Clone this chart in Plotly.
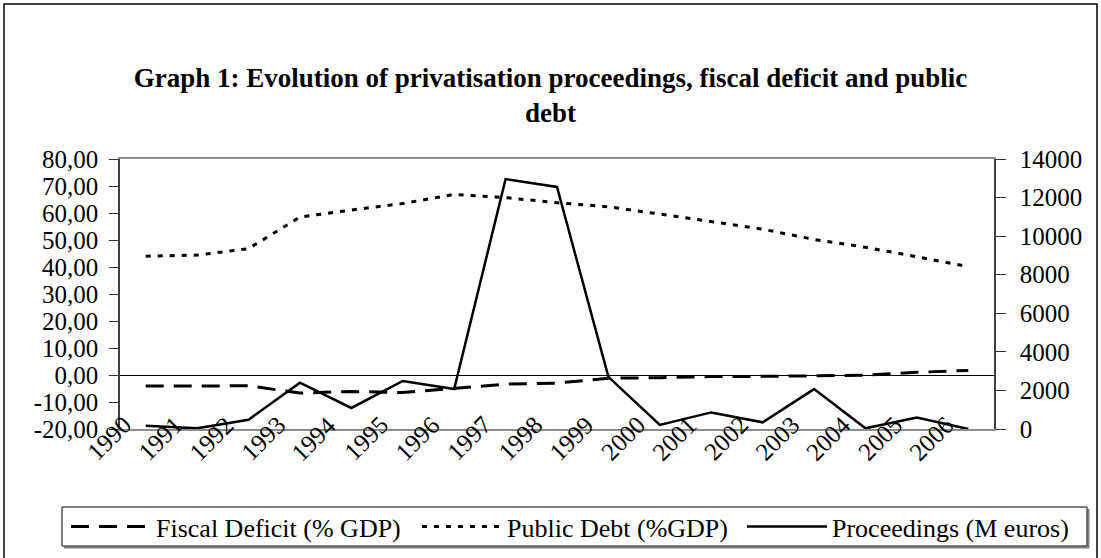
import plotly.graph_objects as go

years = list(range(1990, 2007))
year_labels = [str(y) for y in years]
fiscal_deficit = [-4.1, -4.1, -4.0, -6.7, -6.1, -6.5, -4.9, -3.4, -3.0, -1.2, -1.0, -0.6, -0.5, -0.2, -0.1, 1.0, 1.7]
public_debt = [44.0, 44.4, 46.8, 58.5, 61.1, 63.5, 66.9, 65.7, 63.8, 62.3, 59.6, 56.8, 54.0, 50.2, 47.3, 43.8, 40.1]
proceedings = [170, 35, 480, 2400, 1090, 2490, 2070, 12960, 12550, 2700, 215, 860, 345, 2070, 35, 590, 0]

left_tickvals = [-20, -10, 0, 10, 20, 30, 40, 50, 60, 70, 80]
left_ticktext = ["-20,00", "-10,00", "0,00", "10,00", "20,00", "30,00", "40,00", "50,00", "60,00", "70,00", "80,00"]
right_tickvals = [0, 2000, 4000, 6000, 8000, 10000, 12000, 14000]
right_ticktext = ["0", "2000", "4000", "6000", "8000", "10000", "12000", "14000"]
boundaries = [y + 0.5 for y in years[:-1]]

W, H = 1101, 558
ML, MR, MT, MB = 120, 107, 159, 129
PW = W - ML - MR
PH = H - MT - MB

def px_x(p):
    return (p - ML) / PW

def px_y(p):
    return (H - MB - p) / PH

FONT = "Liberation Serif"
xr = [years[0] - 0.5, years[-1] + 0.5]

fig = go.Figure()
fig.add_trace(go.Scatter(x=years, y=fiscal_deficit, name="Fiscal Deficit (% GDP)", mode="lines",
                         line=dict(color="black", width=3, dash="18px,10px"), xaxis="x", yaxis="y",
                         legend="legend"))
fig.add_trace(go.Scatter(x=years, y=public_debt, name="Public Debt (%GDP)", mode="lines",
                         line=dict(color="black", width=3, dash="5px,7px"), xaxis="x", yaxis="y",
                         legend="legend2"))
fig.add_trace(go.Scatter(x=years, y=proceedings, name="Proceedings (M euros)", mode="lines",
                         line=dict(color="black", width=2.5), xaxis="x", yaxis="y2",
                         legend="legend3"))

annotations = []
for yr, lab in zip(years, year_labels):
    annotations.append(dict(x=yr, y=0, xref="x", yref="paper", text=lab, showarrow=False,
                            textangle=-45, xanchor="right", yanchor="top", xshift=-7, yshift=21,
                            font=dict(family=FONT, size=25, color="black")))

shapes = [
    # outer chart border
    dict(type="rect", xref="paper", yref="paper", x0=px_x(4), x1=px_x(1097), y0=px_y(562), y1=px_y(4),
         line=dict(color="black", width=1.5), fillcolor="rgba(0,0,0,0)", layer="below"),
    # legend box and its shadow
    dict(type="line", xref="paper", yref="paper", x0=px_x(64), x1=px_x(1089), y0=px_y(547.5), y1=px_y(547.5),
         line=dict(color="#808080", width=2), layer="below"),
    dict(type="line", xref="paper", yref="paper", x0=px_x(1088.5), x1=px_x(1088.5), y0=px_y(509), y1=px_y(548),
         line=dict(color="#808080", width=2), layer="below"),
    dict(type="rect", xref="paper", yref="paper", x0=px_x(62), x1=px_x(1087), y0=px_y(546), y1=px_y(507),
         line=dict(color="black", width=1), fillcolor="white", layer="below"),
]

def legend_at(px_left):
    return dict(orientation="h", x=px_x(px_left), y=px_y(526.5), xanchor="left", yanchor="middle",
                borderwidth=0, bgcolor="rgba(0,0,0,0)",
                font=dict(family=FONT, size=26, color="black"), itemwidth=80)

fig.update_layout(
    width=W, height=H,
    margin=dict(l=ML, r=MR, t=MT, b=MB, autoexpand=False),
    paper_bgcolor="white", plot_bgcolor="white",
    font=dict(family=FONT, size=25, color="black"),
    title=dict(text="<b>Graph 1: Evolution of privatisation proceedings, fiscal deficit and public<br>debt</b>",
               x=0.5, xanchor="center", y=1 - 87 / H, yanchor="middle",
               font=dict(family=FONT, size=27, color="black")),
    showlegend=True,
    legend=legend_at(66),
    legend2=legend_at(417),
    legend3=legend_at(742),
    xaxis=dict(range=xr, showticklabels=False, ticks="", showline=True, linecolor="#8c8c8c",
               linewidth=2, mirror=True, showgrid=False, zeroline=False, fixedrange=True),
    xaxis2=dict(range=xr, overlaying="x", anchor="free", position=0.2, tickvals=boundaries,
                ticks="outside", ticklen=7, tickcolor="black", tickwidth=1, showticklabels=False,
                showline=False, showgrid=False, zeroline=False),
    xaxis3=dict(range=xr, overlaying="x", anchor="free", position=0.2, tickvals=boundaries,
                ticks="inside", ticklen=7, tickcolor="black", tickwidth=1, showticklabels=False,
                showline=False, showgrid=False, zeroline=False),
    yaxis=dict(range=[-20, 80], tickvals=left_tickvals, ticktext=left_ticktext, ticks="outside",
               ticklen=9, tickcolor="#333333", tickwidth=1, showline=True, linecolor="#404040",
               linewidth=1.5, showgrid=False, zeroline=True, zerolinecolor="black", zerolinewidth=1,
               ticklabelstandoff=6, tickfont=dict(family=FONT, size=25, color="black")),
    yaxis2=dict(range=[0, 14000], overlaying="y", side="right", tickvals=right_tickvals,
                ticktext=right_ticktext, ticks="outside", ticklen=10, tickcolor="#333333", tickwidth=1,
                showline=True, linecolor="#404040", linewidth=1.5, showgrid=False, zeroline=False,
                ticklabelstandoff=9, tickfont=dict(family=FONT, size=25, color="black")),
    yaxis3=dict(range=[-20, 80], overlaying="y", side="left", tickvals=left_tickvals, ticks="inside",
                ticklen=9, tickcolor="#333333", tickwidth=1, showticklabels=False, showline=False,
                showgrid=False, zeroline=False),
    yaxis4=dict(range=[0, 14000], overlaying="y", side="right", tickvals=right_tickvals, ticks="inside",
                ticklen=8, tickcolor="#333333", tickwidth=1, showticklabels=False, showline=False,
                showgrid=False, zeroline=False),
    annotations=annotations,
    shapes=shapes,
)

fig.write_html("out.html", config={"displayModeBar": False},
               post_script="document.body.style.margin='0';document.body.style.overflow='hidden';")
